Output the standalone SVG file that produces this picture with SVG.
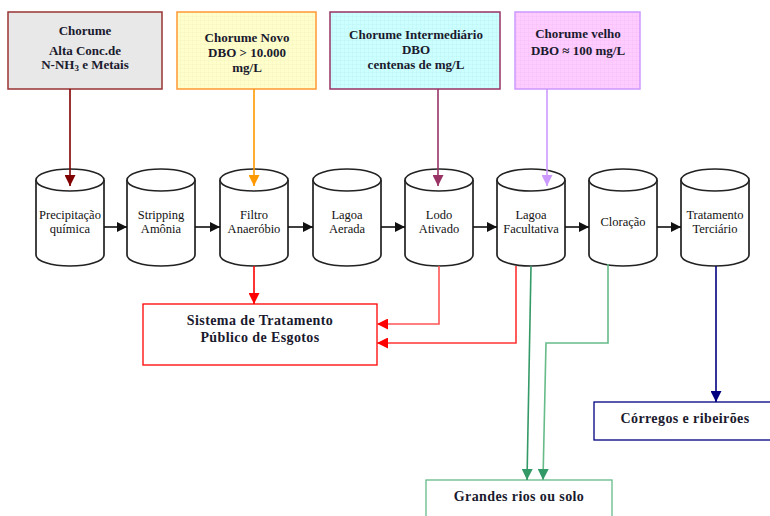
<svg xmlns="http://www.w3.org/2000/svg" width="770" height="516" viewBox="0 0 770 516">
<style>
.bx{font-family:"Liberation Serif","Times New Roman",serif;font-weight:bold;font-size:13px;fill:#1a1a2e;text-anchor:middle}
.bx13{font-family:"Liberation Serif","Times New Roman",serif;font-weight:bold;font-size:14px;fill:#1a1a2e;text-anchor:middle;letter-spacing:0.4px}
.cy{font-family:"Liberation Serif","Times New Roman",serif;font-size:12.5px;fill:#111;text-anchor:middle}
.cyl{fill:#fff;stroke:#222;stroke-width:1.7}
.ln{fill:none;stroke-width:1.6}
</style>
<defs>
<pattern id="gy" width="4" height="4" patternUnits="userSpaceOnUse"><rect width="4" height="4" fill="#ffffcc"/><path d="M0 0H4M0 0V4" stroke="#f2efb8" stroke-width="0.6"/></pattern>
<pattern id="gc" width="4" height="4" patternUnits="userSpaceOnUse"><rect width="4" height="4" fill="#ccffff"/><path d="M0 0H4M0 0V4" stroke="#b8eeee" stroke-width="0.6"/></pattern>
<pattern id="gp" width="4" height="4" patternUnits="userSpaceOnUse"><rect width="4" height="4" fill="#ffccff"/><path d="M0 0H4M0 0V4" stroke="#f0b8f0" stroke-width="0.6"/></pattern>
<marker id="ak" markerWidth="10" markerHeight="10" refX="10" refY="5" orient="auto" markerUnits="userSpaceOnUse"><path d="M0 0L10 5L0 10Z" fill="#111"/></marker>
<marker id="ar1" markerWidth="11" markerHeight="11" refX="11" refY="5.5" orient="auto" markerUnits="userSpaceOnUse"><path d="M0 0L11 5.5L0 11Z" fill="#800000"/></marker>
<marker id="ar2" markerWidth="11" markerHeight="11" refX="11" refY="5.5" orient="auto" markerUnits="userSpaceOnUse"><path d="M0 0L11 5.5L0 11Z" fill="#ff9900"/></marker>
<marker id="ar3" markerWidth="11" markerHeight="11" refX="11" refY="5.5" orient="auto" markerUnits="userSpaceOnUse"><path d="M0 0L11 5.5L0 11Z" fill="#993366"/></marker>
<marker id="ar4" markerWidth="11" markerHeight="11" refX="11" refY="5.5" orient="auto" markerUnits="userSpaceOnUse"><path d="M0 0L11 5.5L0 11Z" fill="#cc99ff"/></marker>
<marker id="arr" markerWidth="11" markerHeight="11" refX="11" refY="5.5" orient="auto" markerUnits="userSpaceOnUse"><path d="M0 0L11 5.5L0 11Z" fill="#ff0000"/></marker>
<marker id="arg" markerWidth="11" markerHeight="11" refX="11" refY="5.5" orient="auto" markerUnits="userSpaceOnUse"><path d="M0 0L11 5.5L0 11Z" fill="#339966"/></marker>
<marker id="arn" markerWidth="11" markerHeight="11" refX="11" refY="5.5" orient="auto" markerUnits="userSpaceOnUse"><path d="M0 0L11 5.5L0 11Z" fill="#000080"/></marker>
</defs>
<rect width="770" height="516" fill="#fff"/>

<g id="box-alta">
<rect x="8" y="12" width="154" height="77" fill="#e8e8e8" stroke="#993333" stroke-width="1.5"/>
<text class="bx" x="85" y="35">Chorume</text>
<text class="bx" x="85" y="55">Alta Conc.de</text>
<text class="bx" x="85" y="69">N-NH<tspan font-size="9" dy="2">3</tspan><tspan dy="-2"> e Metais</tspan></text>
</g>
<g id="box-novo">
<rect x="177" y="12" width="139" height="77" fill="url(#gy)" stroke="#ff9933" stroke-width="1.5"/>
<text class="bx" x="247" y="42">Chorume Novo</text>
<text class="bx" x="247" y="57">DBO &gt; 10.000</text>
<text class="bx" x="247" y="72">mg/L</text>
</g>
<g id="box-inter">
<rect x="330" y="12" width="170" height="77" fill="url(#gc)" stroke="#993366" stroke-width="1.5"/>
<text class="bx" x="416" y="39">Chorume Intermediário</text>
<text class="bx" x="416" y="54">DBO</text>
<text class="bx" x="416" y="69">centenas de mg/L</text>
</g>
<g id="box-velho">
<rect x="515" y="12" width="125" height="77" fill="url(#gp)" stroke="#cc99ff" stroke-width="1.5"/>
<text class="bx" x="578" y="38">Chorume velho</text>
<text class="bx" x="578" y="55">DBO ≈ 100 mg/L</text>
</g>

<g id="cyl-precip">
<path class="cyl" d="M36 180V255A34 11 0 0 0 104 255V180"/><ellipse class="cyl" cx="70" cy="180" rx="34" ry="11"/>
<text class="cy" x="70" y="219">Precipitação</text><text class="cy" x="70" y="233">química</text>
</g>
<g id="cyl-strip">
<path class="cyl" d="M127 180V255A34 11 0 0 0 195 255V180"/><ellipse class="cyl" cx="161" cy="180" rx="34" ry="11"/>
<text class="cy" x="161" y="219">Stripping</text><text class="cy" x="161" y="233">Amônia</text>
</g>
<g id="cyl-filtro">
<path class="cyl" d="M220 180V255A34 11 0 0 0 288 255V180"/><ellipse class="cyl" cx="254" cy="180" rx="34" ry="11"/>
<text class="cy" x="254" y="219">Filtro</text><text class="cy" x="254" y="233">Anaeróbio</text>
</g>
<g id="cyl-aerada">
<path class="cyl" d="M313 180V255A34 11 0 0 0 381 255V180"/><ellipse class="cyl" cx="347" cy="180" rx="34" ry="11"/>
<text class="cy" x="347" y="219">Lagoa</text><text class="cy" x="347" y="233">Aerada</text>
</g>
<g id="cyl-lodo">
<path class="cyl" d="M405 180V255A34 11 0 0 0 473 255V180"/><ellipse class="cyl" cx="439" cy="180" rx="34" ry="11"/>
<text class="cy" x="439" y="219">Lodo</text><text class="cy" x="439" y="233">Ativado</text>
</g>
<g id="cyl-facult">
<path class="cyl" d="M497 180V255A34 11 0 0 0 565 255V180"/><ellipse class="cyl" cx="531" cy="180" rx="34" ry="11"/>
<text class="cy" x="531" y="219">Lagoa</text><text class="cy" x="531" y="233">Facultativa</text>
</g>
<g id="cyl-clora">
<path class="cyl" d="M589 180V255A34 11 0 0 0 657 255V180"/><ellipse class="cyl" cx="623" cy="180" rx="34" ry="11"/>
<text class="cy" x="623" y="226">Cloração</text>
</g>
<g id="cyl-terc">
<path class="cyl" d="M681 180V255A34 11 0 0 0 749 255V180"/><ellipse class="cyl" cx="715" cy="180" rx="34" ry="11"/>
<text class="cy" x="715" y="219">Tratamento</text><text class="cy" x="715" y="233">Terciário</text>
</g>

<g id="box-sistema">
<rect x="143" y="304" width="234" height="61" fill="#fff" stroke="#ff0000" stroke-width="1.3"/>
<text class="bx13" x="260" y="325">Sistema de Tratamento</text>
<text class="bx13" x="260" y="342">Público de Esgotos</text>
</g>
<g id="box-corregos">
<rect x="594" y="402" width="180" height="38" fill="#fff" stroke="#000080" stroke-width="1.3"/>
<text class="bx13" x="685" y="423">Córregos e ribeirões</text>
</g>
<g id="box-grandes">
<rect x="426" y="480" width="186" height="40" fill="#fff" stroke="#66bb88" stroke-width="1.3"/>
<text class="bx13" x="519" y="501">Grandes rios ou solo</text>
</g>

<g id="connectors">
<path class="ln" stroke="#111" d="M104 227H127" marker-end="url(#ak)"/>
<path class="ln" stroke="#111" d="M195 227H220" marker-end="url(#ak)"/>
<path class="ln" stroke="#111" d="M288 227H313" marker-end="url(#ak)"/>
<path class="ln" stroke="#111" d="M381 227H405" marker-end="url(#ak)"/>
<path class="ln" stroke="#111" d="M473 227H497" marker-end="url(#ak)"/>
<path class="ln" stroke="#111" d="M565 227H589" marker-end="url(#ak)"/>
<path class="ln" stroke="#111" d="M657 227H681" marker-end="url(#ak)"/>
<path class="ln" stroke="#800000" d="M70 89V186" marker-end="url(#ar1)"/>
<path class="ln" stroke="#ff9900" d="M254 89V186" marker-end="url(#ar2)"/>
<path class="ln" stroke="#993366" d="M438 89V186" marker-end="url(#ar3)"/>
<path class="ln" stroke="#cc99ff" d="M547 89V186" marker-end="url(#ar4)"/>
<path class="ln" stroke="#ff0000" d="M254 266V304" marker-end="url(#arr)"/>
<path class="ln" stroke="#ff5555" d="M439 266V324H377" marker-end="url(#arr)"/>
<path class="ln" stroke="#ff3333" d="M516 266V343H377" marker-end="url(#arr)"/>
<path class="ln" stroke="#339966" d="M531 266L527 480" marker-end="url(#arg)"/>
<path class="ln" stroke="#66bb88" d="M608 264V343H546L543 480" marker-end="url(#arg)"/>
<path class="ln" stroke="#000080" d="M716 266V402" marker-end="url(#arn)"/>
</g>
</svg>
